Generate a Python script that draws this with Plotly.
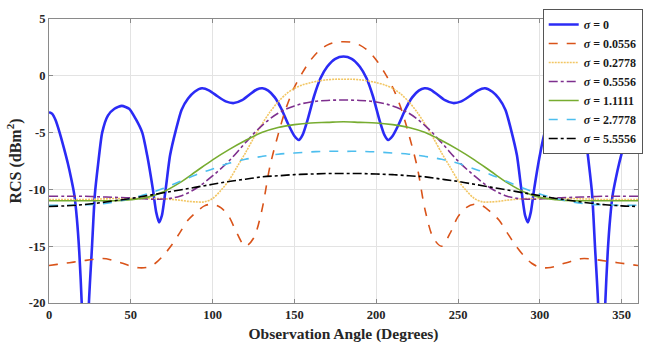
import plotly.graph_objects as go

# ---------------- data ----------------
angle_blue = [0, 2, 4, 6.5, 9, 11.5, 13.5, 15.5, 17, 18.5, 20, 22.2, 24.4, 26.3, 28, 30, 32.5, 36, 40, 44.5,
              49, 53, 57, 60, 63.5, 65.5, 67.3, 69, 71.3, 74, 77.5, 81, 85, 89, 93.5, 98, 103, 108, 113, 118,
              123, 127, 130.5, 134, 138, 142, 146, 150, 152.7, 155, 158, 162, 166, 170, 175, 180,
              185, 190, 194, 198, 202, 205, 207.3, 210, 214, 218, 222, 226, 229.5, 233, 237, 242, 247, 252, 257,
              262, 266.5, 271, 275, 279, 282.5, 286, 288.7, 291, 292.7, 294.5, 296.5, 300, 303, 307, 311, 315.5,
              320, 324, 327.5, 330, 332, 333.7, 335.6, 337.8, 340, 341.5, 343, 344.5, 346.5, 348.5, 351, 353.5,
              356, 358, 360]
rcs_s0 = [-3.2, -3.35, -3.9, -5.0, -6.3, -7.7, -9.0, -10.5, -12.5, -15.5, -20, -32, -20, -15, -10.5, -7.8, -5.0, -3.5, -2.9, -2.65,
          -2.9, -3.8, -5.0, -7.0, -10, -12, -12.9, -12.3, -10, -7, -4.8, -3.0, -2.0, -1.4, -1.1, -1.3, -1.8, -2.25, -2.4, -2.15,
          -1.6, -1.2, -1.1, -1.3, -1.9, -2.9, -4.2, -5.3, -5.65, -5.2, -3.9, -1.8, -0.2, 0.8, 1.5, 1.7,
          1.5, 0.8, -0.2, -1.8, -3.9, -5.2, -5.65, -5.3, -4.2, -2.9, -1.9, -1.3, -1.1, -1.2, -1.6, -2.15, -2.4, -2.25, -1.8,
          -1.3, -1.1, -1.4, -2.0, -3.0, -4.8, -7, -10, -12.3, -12.9, -12, -10, -7.0, -5.0, -3.8, -2.9, -2.65,
          -2.9, -3.5, -5.0, -7.8, -10.5, -15, -20, -32, -20, -15.5, -12.5, -10.5, -9.0, -7.7, -6.3, -5.0,
          -3.9, -3.35, -3.2]

angle_5 = [0, 5, 10, 15, 20, 25, 30, 35, 40, 45, 50, 55, 60, 65, 70, 75, 80, 85, 90, 95, 100, 105, 110, 115, 120,
           125, 130, 135, 140, 145, 150, 155, 160, 165, 170, 175, 180, 185, 190, 195, 200, 205, 210, 215, 220, 225,
           230, 235, 240, 245, 250, 255, 260, 265, 270, 275, 280, 285, 290, 295, 300, 305, 310, 315, 320, 325, 330,
           335, 340, 345, 350, 355, 360]
rcs_s0056 = [-16.7, -16.6, -16.5, -16.4, -16.3, -16.2, -16.1, -16.1, -16.3, -16.5, -16.75, -16.9, -16.85, -16.5, -15.8,
             -14.9, -13.8, -12.7, -12.0, -11.45, -11.3, -11.6, -12.4, -13.9, -15.0, -14.3, -11.9, -8.0, -5.2, -2.8, -1.0,
             0.3, 1.4, 2.2, 2.7, 2.95, 3.0,
             2.95, 2.7, 2.2, 1.4, 0.3, -1.0, -2.8, -5.2, -8.0, -11.9, -14.3, -15.0, -13.9, -12.4, -11.6, -11.3, -11.45,
             -12.0, -12.7, -13.8, -14.9, -15.8, -16.5, -16.85, -16.9, -16.75, -16.5, -16.3, -16.1, -16.1, -16.2, -16.3,
             -16.4, -16.5, -16.6, -16.7]
rcs_s2778 = [-10.9, -10.9, -10.9, -10.9, -10.9, -10.88, -10.85, -10.83, -10.8, -10.8, -10.8, -10.8, -10.8, -10.8, -10.82,
             -10.88, -10.95, -11.05, -11.1, -11.1, -10.8, -10.1, -9.2, -8.0, -6.8, -5.5, -4.3, -3.2, -2.3, -1.6, -1.1,
             -0.8, -0.6, -0.45, -0.35, -0.3, -0.3,
             -0.3, -0.35, -0.45, -0.6, -0.8, -1.1, -1.6, -2.3, -3.2, -4.3, -5.5, -6.8, -8.0, -9.2, -10.1, -10.8, -11.1,
             -11.1, -11.05, -10.95, -10.88, -10.82, -10.8, -10.8, -10.8, -10.8, -10.8, -10.8, -10.83, -10.85, -10.88,
             -10.9, -10.9, -10.9, -10.9, -10.9]

angle_10 = [0, 10, 20, 30, 40, 50, 60, 70, 80, 90, 100, 110, 120, 130, 140, 150, 160, 170, 180,
            190, 200, 210, 220, 230, 240, 250, 260, 270, 280, 290, 300, 310, 320, 330, 340, 350, 360]
rcs_s5556 = [-10.6, -10.6, -10.6, -10.65, -10.7, -10.75, -10.85, -10.85, -10.6, -9.9, -8.8, -7.5, -5.9, -4.4, -3.3,
             -2.65, -2.3, -2.17, -2.13,
             -2.17, -2.3, -2.65, -3.3, -4.4, -5.9, -7.5, -8.8, -9.9, -10.6, -10.85, -10.85, -10.75, -10.7, -10.65,
             -10.6, -10.6, -10.6]
rcs_s11111 = [-11.0, -11.0, -11.0, -11.0, -11.0, -10.9, -10.7, -10.2, -9.4, -8.4, -7.4, -6.5, -5.7, -5.0, -4.55, -4.3,
              -4.15, -4.1, -4.05,
              -4.1, -4.15, -4.3, -4.55, -5.0, -5.7, -6.5, -7.4, -8.4, -9.4, -10.2, -10.7, -10.9, -11.0, -11.0, -11.0,
              -11.0, -11.0]
rcs_s27778 = [-11.4, -11.4, -11.35, -11.3, -11.1, -10.8, -10.4, -9.9, -9.3, -8.7, -8.2, -7.7, -7.35, -7.1, -6.9, -6.8,
              -6.7, -6.65, -6.65,
              -6.65, -6.7, -6.8, -6.9, -7.1, -7.35, -7.7, -8.2, -8.7, -9.3, -9.9, -10.4, -10.8, -11.1, -11.3, -11.35,
              -11.4, -11.4]
rcs_s55556 = [-11.5, -11.45, -11.35, -11.2, -11.0, -10.8, -10.55, -10.3, -10.05, -9.8, -9.55, -9.3, -9.1, -8.9, -8.8,
              -8.7, -8.65, -8.6, -8.6,
              -8.6, -8.65, -8.7, -8.8, -8.9, -9.1, -9.3, -9.55, -9.8, -10.05, -10.3, -10.55, -10.8, -11.0, -11.2,
              -11.35, -11.45, -11.5]

labels = ["0", "0.0556", "0.2778", "0.5556", "1.1111", "2.7778", "5.5556"]
x_ticks = [0, 50, 100, 150, 200, 250, 300, 350]
y_ticks = [-20, -15, -10, -5, 0, 5]

# ---------------- figure ----------------
series = [
    (angle_blue, rcs_s0, "#2b2bf5", 2.6, "solid", 0.6),
    (angle_5, rcs_s0056, "#D95319", 1.6, "dash", 0.9),
    (angle_5, rcs_s2778, "#F2C663", 1.6, "2px,1px", 0.9),
    (angle_10, rcs_s5556, "#7E2F8E", 1.6, "dashdot", 1.0),
    (angle_10, rcs_s11111, "#77AC30", 1.6, "solid", 1.0),
    (angle_10, rcs_s27778, "#4DBEEE", 1.6, "dash", 1.0),
    (angle_10, rcs_s55556, "#000000", 1.6, "dashdot", 1.0),
]

fig = go.Figure()
for (xs, ys, col, w, dash, sm), lab in zip(series, labels):
    fig.add_trace(go.Scatter(
        x=xs, y=ys, mode="lines", name="<b><i>σ</i> = " + lab + "</b>",
        line=dict(color=col, width=w, dash=dash, shape="spline", smoothing=sm),
    ))

font_family = "Liberation Serif, Times New Roman, serif"
fig.update_layout(
    width=652, height=345,
    margin=dict(l=49, r=9, t=15, b=42),
    paper_bgcolor="white", plot_bgcolor="white",
    font=dict(family=font_family, size=12, color="#262626"),
    showlegend=True,
    legend=dict(
        x=1.008, y=1.035, xanchor="right", yanchor="top",
        bgcolor="white", bordercolor="#555555", borderwidth=1,
        font=dict(family=font_family, size=12, color="#1a1a1a"),
        tracegroupgap=0, itemwidth=30,
    ),
    xaxis=dict(
        range=[0, 360], tickvals=x_ticks, ticktext=["<b>%d</b>" % v for v in x_ticks],
        showgrid=True, gridcolor="#e3e3e3", gridwidth=1,
        showline=True, linecolor="#8a8a8a", linewidth=1, mirror="ticks",
        ticks="inside", ticklen=4, tickcolor="#8a8a8a",
        zeroline=False, automargin=False,
        title=dict(text="<b>Observation Angle (Degrees)</b>", font=dict(size=15.5, color="#262626"), standoff=7),
        tickfont=dict(size=12.5, color="#262626"),
    ),
    yaxis=dict(
        range=[-20, 5], tickvals=y_ticks, ticktext=["<b>%d</b>" % v for v in y_ticks],
        showgrid=True, gridcolor="#e3e3e3", gridwidth=1,
        showline=True, linecolor="#8a8a8a", linewidth=1, mirror="ticks",
        ticks="inside", ticklen=4, tickcolor="#8a8a8a",
        zeroline=False, automargin=False,
        title=dict(text="<b>RCS (dBm<sup>2</sup>)</b>", font=dict(size=16, color="#262626"), standoff=3),
        tickfont=dict(size=12.5, color="#262626"),
    ),
)

fig.write_html("out.html")
